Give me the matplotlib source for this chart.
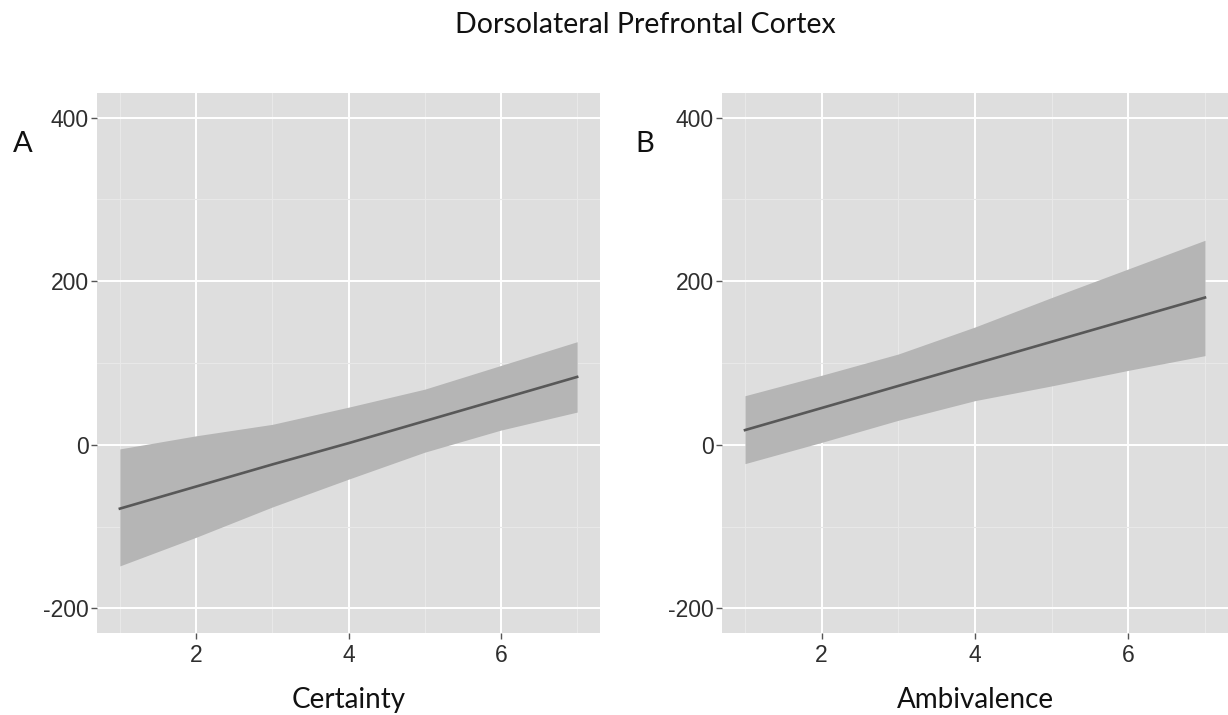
import matplotlib
matplotlib.use("Agg")
import matplotlib.pyplot as plt
from matplotlib.ticker import MultipleLocator

plt.rcParams["axes.unicode_minus"] = False

# ---- data ----
x_vals = [1, 2, 3, 4, 5, 6, 7]

cert_fit = [-78, -51, -24, 2, 29, 56, 83]
cert_upper = [-5, 11, 25, 46, 68, 97, 126]
cert_lower = [-148, -113, -76, -42, -9, 18, 40]

amb_fit = [18, 45, 72, 99, 126, 153, 180]
amb_upper = [60, 85, 111, 144, 180, 215, 250]
amb_lower = [-23, 3, 30, 54, 72, 91, 109]

x_ticks = [2, 4, 6]
y_ticks = [-200, 0, 200, 400]

title = "Dorsolateral Prefrontal Cortex"
panels = [
    ("A", "Certainty", cert_fit, cert_upper, cert_lower),
    ("B", "Ambivalence", amb_fit, amb_upper, amb_lower),
]

# ---- styling ----
BG = "#DEDEDE"
RIBBON = "#B5B5B5"
LINE = "#585858"
TICKC = "#2E2E2E"
LABEL_FONT = ["Lato", "DejaVu Sans"]
TICK_FONT = ["Liberation Sans", "DejaVu Sans"]

fig = plt.figure(figsize=(12.28, 7.15), dpi=100)
fig.patch.set_facecolor("white")

positions = [
    [97 / 1228, 82 / 715, 503 / 1228, 540 / 715],
    [722 / 1228, 82 / 715, 506 / 1228, 540 / 715],
]
letter_x = [23 / 1228, 645 / 1228]

for (letter, xlabel, fit, up, lo), pos, lx in zip(panels, positions, letter_x):
    ax = fig.add_axes(pos)
    ax.set_facecolor(BG)
    ax.set_xlim(0.7, 7.3)
    ax.set_ylim(-230, 430)
    ax.xaxis.set_minor_locator(MultipleLocator(1))
    ax.yaxis.set_minor_locator(MultipleLocator(100))
    ax.set_xticks(x_ticks)
    ax.set_yticks(y_ticks)
    ax.grid(which="major", color="white", linewidth=1.4)
    ax.grid(which="minor", color="#E8E8E8", linewidth=0.8)
    ax.set_axisbelow(True)
    for s in ax.spines.values():
        s.set_visible(False)
    ax.tick_params(which="major", length=4, width=1, color="#555555",
                   labelsize=16.5, labelcolor=TICKC, pad=2)
    ax.tick_params(axis="x", which="major", pad=4)
    ax.tick_params(which="minor", length=0)
    for lab in ax.get_xticklabels() + ax.get_yticklabels():
        lab.set_fontfamily(TICK_FONT)

    ax.fill_between(x_vals, lo, up, color=RIBBON, linewidth=0, zorder=2)
    ax.plot(x_vals, fit, color=LINE, linewidth=1.9, zorder=3)

    ax.set_xlabel(xlabel, fontsize=20, family=LABEL_FONT, color="#111111", labelpad=14)
    fig.text(lx, 1 - 144 / 715, letter, fontsize=21, family=LABEL_FONT,
             color="#111111", ha="center", va="center")

fig.text(645 / 1228, 1 - 25 / 715, title, fontsize=20.5, family=LABEL_FONT,
         color="#111111", ha="center", va="center")

fig.savefig("out.png", dpi=100)
